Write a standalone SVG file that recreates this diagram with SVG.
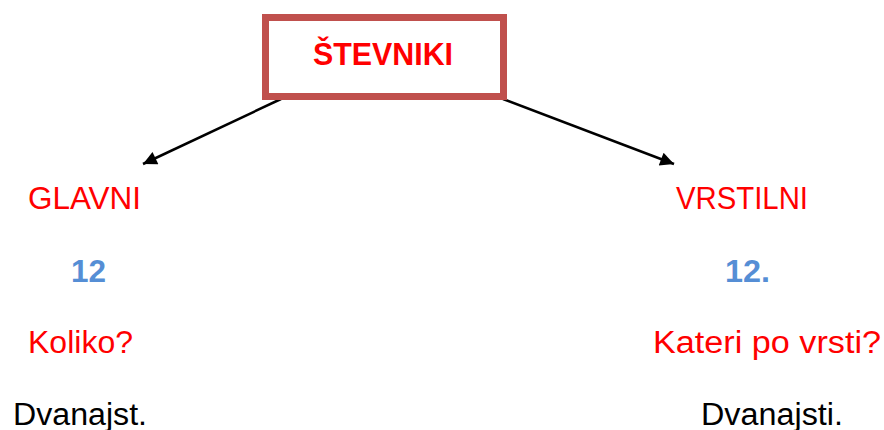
<svg xmlns="http://www.w3.org/2000/svg" width="884" height="430" viewBox="0 0 884 430">
<style>
text { font-family: "Liberation Sans", Arial, sans-serif; font-size: 31px; }
.red { fill: #FF0000; }
.blue { fill: #558ED5; font-weight: bold; }
.blk { fill: #000000; }
.conn { stroke: #000; stroke-width: 2.5; fill: none; marker-end: url(#arr); }
</style>
<defs>
<marker id="arr" viewBox="0 0 10 10" refX="10" refY="5" markerWidth="6.5" markerHeight="5.5" orient="auto" markerUnits="strokeWidth">
<path d="M0,0 L10,5 L0,10 z" fill="#000"/>
</marker>
</defs>
<rect width="884" height="430" fill="#fff"/>
<g id="connectors">
<line class="conn" x1="281" y1="99" x2="143" y2="164"/>
<line class="conn" x1="503" y1="99" x2="674" y2="164"/>
</g>
<g id="root">
<rect x="265.5" y="17.5" width="238" height="79" fill="#fff" stroke="#C0504D" stroke-width="7"/>
<text x="313" y="65" class="red" font-weight="bold" textLength="140" lengthAdjust="spacingAndGlyphs">ŠTEVNIKI</text>
</g>
<g id="glavni">
<text x="28" y="209" class="red" textLength="113" lengthAdjust="spacingAndGlyphs">GLAVNI</text>
<text x="71" y="282" class="blue" textLength="35" lengthAdjust="spacingAndGlyphs">12</text>
<text x="28" y="353" class="red" textLength="105" lengthAdjust="spacingAndGlyphs">Koliko?</text>
<text x="13" y="425" class="blk" textLength="134" lengthAdjust="spacingAndGlyphs">Dvanajst.</text>
</g>
<g id="vrstilni">
<text x="676" y="209" class="red" textLength="132" lengthAdjust="spacingAndGlyphs">VRSTILNI</text>
<text x="725" y="282" class="blue" textLength="45" lengthAdjust="spacingAndGlyphs">12.</text>
<text x="653" y="353" class="red" textLength="228" lengthAdjust="spacingAndGlyphs">Kateri po vrsti?</text>
<text x="701" y="425" class="blk" textLength="142" lengthAdjust="spacingAndGlyphs">Dvanajsti.</text>
</g>
</svg>
